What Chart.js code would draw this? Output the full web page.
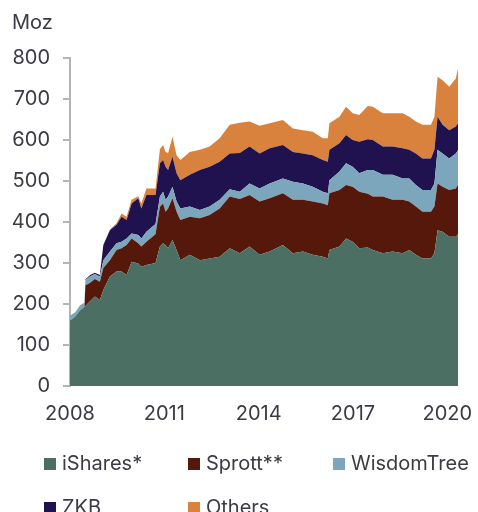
<!DOCTYPE html>
<html>
<head>
<meta charset="utf-8">
<script src="https://cdn.jsdelivr.net/npm/chart.js@4.4.1/dist/chart.umd.min.js"></script>
<style>
  body { margin: 0; background: #fff; font-family: Inter, "Noto Sans", sans-serif; }
  #wrap { position: relative; width: 478px; height: 512px; overflow: hidden; }
  #myChart { position: absolute; left: 0; top: 0; }
  .unit { position: absolute; left: 12px; top: 12px; font-size: 20px; line-height: 20px; color: #3b3b45; }
  .item { position: absolute; font-size: 20px; line-height: 20px; color: #3b3b45; padding-left: 18px; white-space: nowrap; }
  .item span { position: absolute; left: 0; top: 5px; width: 12px; height: 12px; }
</style>
</head>
<body>
<div id="wrap">
  <canvas id="myChart" width="478" height="512"></canvas>
  <div class="unit">Moz</div>
  <div id="legend"></div>
</div>
<script>
// decimal years
var dates = [2008.00, 2008.16, 2008.32, 2008.46, 2008.49, 2008.63, 2008.79, 2008.95, 2009.06, 2009.27,
  2009.48, 2009.64, 2009.80, 2009.96, 2010.17, 2010.27, 2010.43, 2010.72, 2010.86, 2010.96,
  2011.04, 2011.12, 2011.26, 2011.39, 2011.51, 2011.81, 2012.13, 2012.44, 2012.76, 2013.08,
  2013.40, 2013.71, 2014.03, 2014.35, 2014.77, 2015.09, 2015.41, 2015.72, 2016.04, 2016.20,
  2016.25, 2016.57, 2016.78, 2016.99, 2017.20, 2017.47, 2017.63, 2017.95, 2018.26, 2018.58,
  2018.79, 2019.00, 2019.21, 2019.48, 2019.59, 2019.69, 2019.85, 2020.06, 2020.27, 2020.34];

// holdings per fund (Moz)
var iShares = [160, 169, 185, 193, 195, 206, 218, 210, 234, 267,
  279, 279, 271, 303, 299, 291, 295, 300, 340, 348,
  344, 336, 356, 332, 307, 320, 307, 311, 315, 336,
  324, 340, 320, 328, 344, 324, 328, 320, 315, 311,
  332, 340, 360, 352, 336, 338, 332, 324, 328, 324,
  332, 320, 311, 311, 324, 380, 376, 364, 364, 370];
var sprott = [0, 0, 0, 0, 51, 45, 43, 44, 54, 40,
  53, 57, 73, 57, 49, 49, 57, 70, 97, 97,
  81, 97, 102, 93, 98, 93, 102, 106, 118, 126,
  132, 126, 130, 130, 126, 130, 126, 130, 130, 130,
  138, 138, 130, 134, 138, 131, 130, 138, 126, 130,
  118, 118, 114, 114, 114, 114, 110, 114, 118, 120];
var wisdomTree = [12, 10, 12, 10, 12, 16, 12, 13, 19, 21,
  16, 16, 16, 12, 20, 20, 24, 25, 25, 29,
  29, 29, 28, 25, 28, 25, 20, 21, 21, 18,
  18, 28, 32, 36, 36, 44, 40, 36, 29, 29,
  32, 45, 53, 49, 45, 58, 65, 53, 61, 52,
  56, 52, 53, 53, 56, 82, 81, 77, 85, 85];
var zkb = [0, 0, 0, 0, 2, 3, 3, 4, 37, 52,
  45, 61, 45, 73, 90, 73, 90, 71, 81, 77,
  81, 65, 73, 69, 69, 77, 98, 97, 93, 87,
  94, 90, 85, 86, 82, 73, 73, 77, 77, 77,
  74, 69, 69, 65, 77, 75, 73, 69, 69, 74,
  70, 77, 77, 77, 82, 81, 70, 69, 66, 65];
var others = [0, 0, 0, 0, 0, 0, 0, 0, 0, 2,
  4, 8, 8, 9, 5, 12, 16, 16, 35, 37,
  36, 41, 49, 44, 49, 56, 49, 49, 57, 70,
  74, 61, 68, 61, 61, 57, 57, 57, 53, 57,
  65, 65, 69, 65, 65, 81, 81, 81, 81, 85,
  81, 78, 82, 82, 81, 97, 109, 106, 117, 135];

var seriesNames = ["iShares*", "Sprott**", "WisdomTree", "ZKB", "Others"];
var seriesColors = ["#4b7063", "#55180b", "#7ba6bb", "#1f124f", "#d8823e"];
var yearTicks = [2008, 2011, 2014, 2017, 2020];

var textColor = "#3b3b45";
var axisColor = "#b4b4b4";

var toPoints = function(values) {
  return values.map(function(v, i) {
    return { x: dates[i], y: v };
  });
};

var allSeries = [iShares, sprott, wisdomTree, zkb, others];
var datasets = allSeries.map(function(values, i) {
  return {
    label: seriesNames[i],
    data: toPoints(values),
    backgroundColor: seriesColors[i],
    borderColor: seriesColors[i],
    borderWidth: 0,
    pointRadius: 0,
    tension: 0,
    fill: i === 0 ? "origin" : "-1"
  };
});

var ctx = document.getElementById("myChart");
var myChart = new Chart(ctx, {
  type: "line",
  data: { datasets: datasets },
  options: {
    responsive: false,
    animation: false,
    layout: { padding: { top: 58, right: 20, left: 0, bottom: 0 } },
    plugins: {
      legend: { display: false },
      tooltip: { enabled: false }
    },
    scales: {
      x: {
        type: "linear",
        min: 2008,
        max: 2020.34,
        afterBuildTicks: function(scale) {
          scale.ticks = yearTicks.map(function(v) { return { value: v }; });
        },
        afterFit: function(scale) {
          scale.height = 126;
          scale.paddingLeft = 0;
          scale.paddingRight = 0;
        },
        grid: { display: false, drawTicks: false },
        border: { display: false },
        ticks: {
          padding: 16,
          color: textColor,
          font: { family: "Inter", size: 20 },
          maxRotation: 0,
          callback: function(v) { return String(v); }
        }
      },
      y: {
        stacked: true,
        min: 0,
        max: 800,
        afterFit: function(scale) { scale.width = 70; },
        grid: { drawOnChartArea: false, color: axisColor, lineWidth: 2, tickLength: 7 },
        border: { color: axisColor, width: 2 },
        ticks: {
          stepSize: 100,
          padding: 13,
          color: textColor,
          font: { family: "Inter", size: 20 }
        }
      }
    }
  }
});

// legend laid out as a grid, like the original
var legendPos = [[44, 453], [188, 453], [333, 453], [44, 497], [188, 497]];
var legend = document.getElementById("legend");
seriesNames.forEach(function(name, i) {
  var item = document.createElement("div");
  item.className = "item";
  item.style.left = legendPos[i][0] + "px";
  item.style.top = legendPos[i][1] + "px";
  var box = document.createElement("span");
  box.style.background = seriesColors[i];
  item.appendChild(box);
  item.appendChild(document.createTextNode(name));
  legend.appendChild(item);
});
</script>
</body>
</html>
